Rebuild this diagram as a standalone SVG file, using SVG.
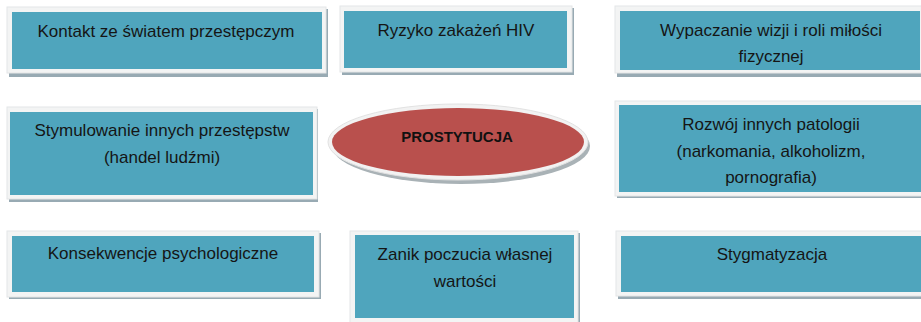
<svg xmlns="http://www.w3.org/2000/svg" width="921" height="322" viewBox="0 0 921 322">
<style>
.sh{fill:#98aab3}
.fr{fill:#f3f4f4;stroke:#e4e6e7;stroke-width:1}
.bx{fill:#4fa5bd}
.t{font-family:"Liberation Sans",Arial,sans-serif;font-size:17px;fill:#151515;text-anchor:middle}
.c{font-family:"Liberation Sans",Arial,sans-serif;font-size:15px;font-weight:bold;fill:#111;text-anchor:middle}
</style>
<rect width="921" height="322" fill="#ffffff"/>
<g id="n1">
<rect class="sh" x="9" y="9" width="319" height="68"/>
<rect class="fr" x="7" y="7" width="319" height="66"/>
<rect class="bx" x="12" y="12" width="310" height="57"/>
<text class="t" x="166" y="37">Kontakt ze światem przestępczym</text>
</g>
<g id="n2">
<rect class="sh" x="342" y="8" width="232" height="67"/>
<rect class="fr" x="340" y="6" width="232" height="66"/>
<rect class="bx" x="344" y="11" width="223" height="57"/>
<text class="t" x="456" y="36">Ryzyko zakażeń HIV</text>
</g>
<g id="n3">
<rect class="sh" x="617" y="8" width="306" height="69"/>
<rect class="fr" x="615" y="6" width="308" height="67"/>
<rect class="bx" x="620" y="11" width="300" height="59"/>
<text class="t" x="771" y="36">Wypaczanie wizji i roli miłości</text>
<text class="t" x="771" y="62">fizycznej</text>
</g>
<g id="n4">
<rect class="sh" x="9" y="109" width="309" height="93"/>
<rect class="fr" x="7" y="107" width="310" height="92"/>
<rect class="bx" x="10" y="112" width="303" height="83"/>
<text class="t" x="162" y="136">Stymulowanie innych przestępstw</text>
<text class="t" x="162" y="163">(handel ludźmi)</text>
</g>
<g id="n5">
<ellipse cx="461" cy="146" rx="129" ry="38" fill="#a9b2b6"/>
<ellipse cx="458" cy="142" rx="130" ry="38" fill="#f2f2f2" stroke="#e2e2e2" stroke-width="1"/>
<ellipse cx="458" cy="142" rx="126" ry="34" fill="#b9504d"/>
<text class="c" x="457" y="142">PROSTYTUCJA</text>
</g>
<g id="n6">
<rect class="sh" x="617" y="103" width="306" height="95"/>
<rect class="fr" x="615" y="101" width="308" height="95"/>
<rect class="bx" x="619" y="105" width="302" height="87"/>
<text class="t" x="771" y="130">Rozwój innych patologii</text>
<text class="t" x="771" y="157">(narkomania, alkoholizm,</text>
<text class="t" x="771" y="183">pornografia)</text>
</g>
<g id="n7">
<rect class="sh" x="9" y="233" width="312" height="66"/>
<rect class="fr" x="7" y="231" width="312" height="66"/>
<rect class="bx" x="12" y="236" width="302" height="56"/>
<text class="t" x="163" y="259">Konsekwencje psychologiczne</text>
</g>
<g id="n8">
<rect class="sh" x="352" y="233" width="228" height="92"/>
<rect class="fr" x="350" y="231" width="228" height="92"/>
<rect class="bx" x="355" y="235" width="219" height="83"/>
<text class="t" x="465" y="260">Zanik poczucia własnej</text>
<text class="t" x="465" y="287">wartości</text>
</g>
<g id="n9">
<rect class="sh" x="618" y="233" width="305" height="66"/>
<rect class="fr" x="616" y="231" width="307" height="65"/>
<rect class="bx" x="621" y="236" width="300" height="56"/>
<text class="t" x="772" y="260">Stygmatyzacja</text>
</g>
<g id="connectors"></g>
</svg>
